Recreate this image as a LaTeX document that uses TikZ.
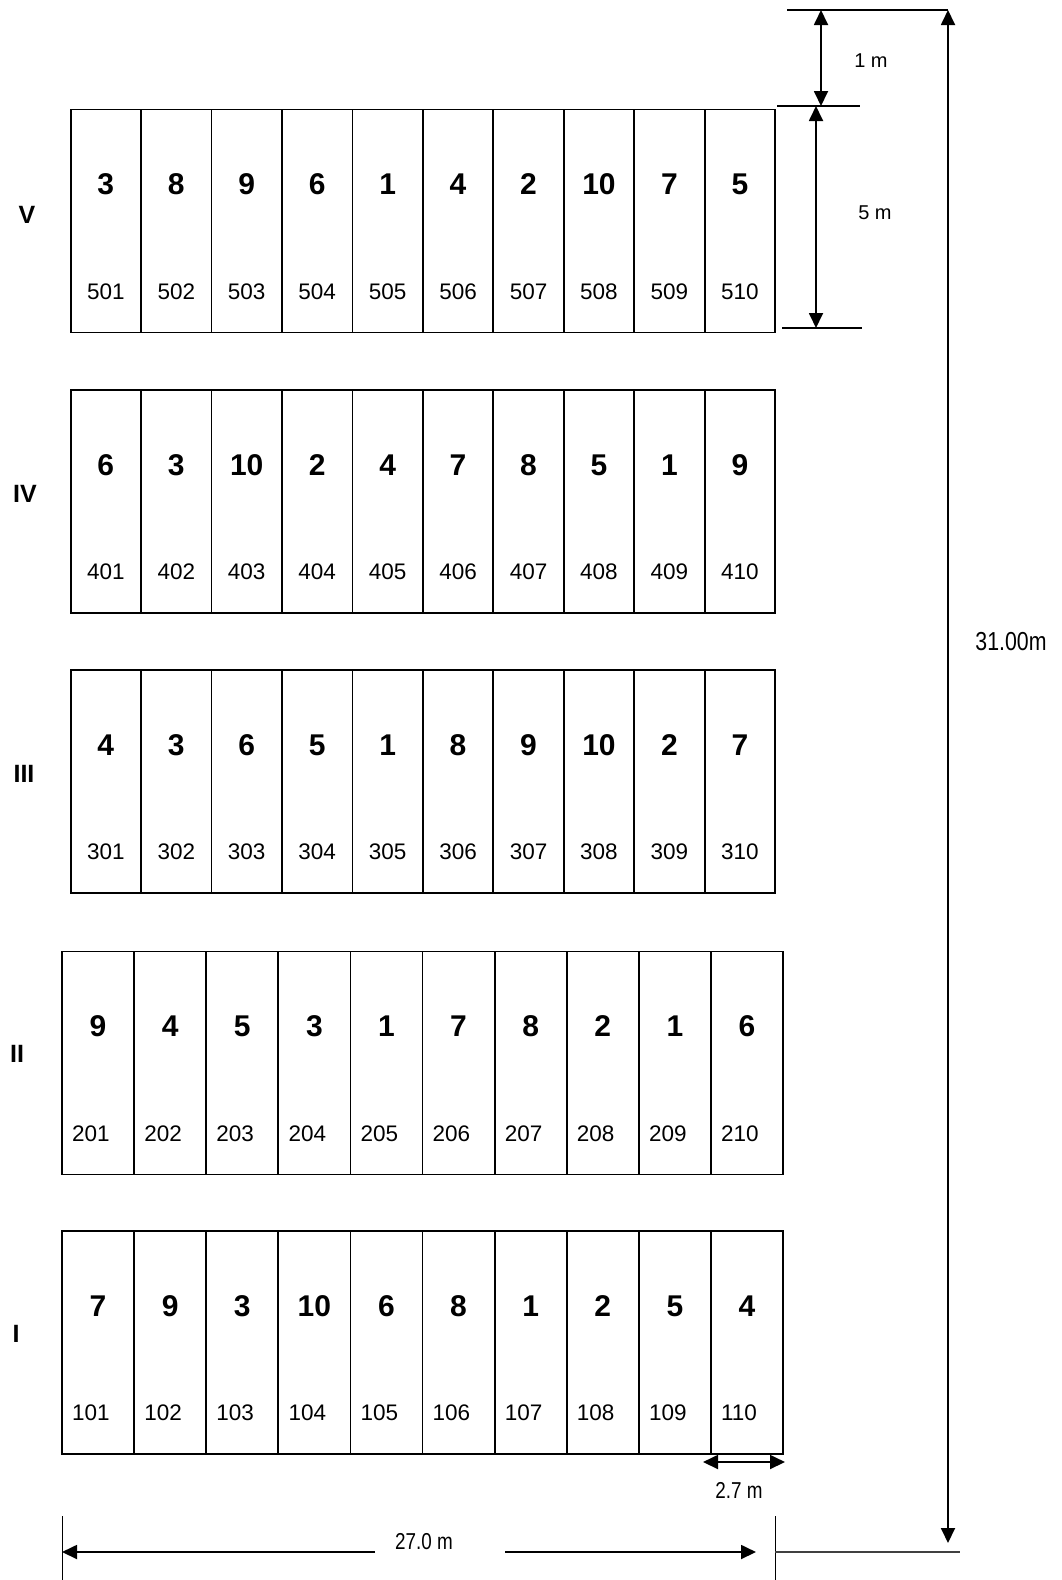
\documentclass[tikz,border=0pt]{standalone}
\usepackage{fontspec}
\setmainfont{Liberation Sans}
\usetikzlibrary{arrows.meta}
\tikzset{
  cell/.style={draw,line width=1.8pt,inner sep=0pt,minimum height=223pt},
  bignum/.style={font=\fontsize{30}{30}\selectfont\bfseries,inner sep=0pt},
  plotnum/.style={font=\fontsize{22.5}{22.5}\selectfont,inner sep=0pt},
  romanlab/.style={font=\fontsize{25}{25}\selectfont\bfseries,inner sep=0pt},
  dimlab/.style={font=\fontsize{20}{20}\selectfont,inner sep=0pt},
  narrowlab/.style={font=\fontsize{23}{23}\selectfont,inner sep=0pt,xscale=0.82},
  dimboth/.style={line width=1.8pt,{Triangle[length=15pt,width=14pt]}-{Triangle[length=15pt,width=14pt]}},
  dimone/.style={line width=1.8pt,-{Triangle[length=15pt,width=14pt]}},
  extline/.style={line width=1.3pt},
}
% #1 row hundreds, #2 ytop, #3 x0, #4 cell width, #5 list, #6 x offset of plot number from cell left (or -1 = centred)
\newcommand\rowplot[6]{%
  \foreach \t [count=\i] in {#5} {
    \pgfmathsetmacro\cx{#3+#4*(\i-0.5)}
    \pgfmathsetmacro\lx{#3+#4*(\i-1)}
    \node[cell,minimum width=#4pt] (c#1-\i) at (\cx,{#2+111.5}) {};
    \node[bignum] (b#1-\i) at (\cx,{#2+75}) {\t};
    \ifnum#6<0
      \node[plotnum] (p#1-\i) at (\cx,{#2+182}) {\the\numexpr #1*100+\i\relax};
    \else
      \node[plotnum,anchor=west] (p#1-\i) at ({\lx+#6},{#2+182}) {\the\numexpr #1*100+\i\relax};
    \fi
  }%
}
\begin{document}
\begin{tikzpicture}[x=1pt,y=-1pt]
\useasboundingbox (0,0) rectangle (1061,1580);

\rowplot{5}{109.5}{70.6}{70.45}{3,8,9,6,1,4,2,10,7,5}{-1}
\rowplot{4}{390}{70.6}{70.45}{6,3,10,2,4,7,8,5,1,9}{-1}
\rowplot{3}{670}{70.6}{70.45}{4,3,6,5,1,8,9,10,2,7}{-1}
\rowplot{2}{951.5}{62}{72.1}{9,4,5,3,1,7,8,2,1,6}{10}
\rowplot{1}{1231}{62}{72.1}{7,9,3,10,6,8,1,2,5,4}{10}

\node[romanlab] (rV) at (27,215) {V};
\node[romanlab] (rIV) at (25,494) {IV};
\node[romanlab] (rIII) at (24,774) {III};
\node[romanlab] (rII) at (17,1054) {II};
\node[romanlab] (rI) at (16,1334) {I};

% top dimension lines
\coordinate (t1) at (787,10);
\coordinate (t2) at (948,10);
\coordinate (m1) at (777,106);
\coordinate (m2) at (860,106);
\coordinate (n1) at (782,328);
\coordinate (n2) at (862,328);
\draw[extline] (t1) -- (t2);
\draw[extline] (m1) -- (m2);
\draw[extline] (n1) -- (n2);
\coordinate (a1t) at (821,10);
\coordinate (a1b) at (821,106);
\coordinate (a2t) at (816,106);
\coordinate (a2b) at (816,328);
\draw[dimboth] (a1t) -- (a1b);
\draw[dimboth] (a2t) -- (a2b);
\node[dimlab] (l1m) at (871,61) {1 m};
\node[dimlab] (l5m) at (875,213) {5 m};

% overall length
\coordinate (bt) at (948,10);
\coordinate (bb) at (948,1543);
\draw[dimboth] (bt) -- (bb);
\node[narrowlab,font=\fontsize{26}{26}\selectfont] (l31) at (1011,642) {31.00m};

% bottom
\coordinate (k1t) at (62,1516);
\coordinate (k1b) at (62,1580);
\coordinate (k2t) at (775,1516);
\coordinate (k2b) at (775,1580);
\draw[line width=1pt] (k1t) -- (k1b);
\draw[line width=1pt] (k2t) -- (k2b);
\coordinate (hl1) at (775,1552);
\coordinate (hl2) at (960,1552);
\draw[line width=1.3pt,black!75] (hl1) -- (hl2);
\node[narrowlab] (l27) at (424,1542) {27.0 m};
\coordinate (w1) at (62,1552);
\coordinate (w2) at (756,1552);
\coordinate (w1s) at (375,1552);
\coordinate (w2s) at (505,1552);
\draw[dimone] (w1s) -- (w1);
\draw[dimone] (w2s) -- (w2);

\coordinate (s1) at (703,1462);
\coordinate (s2) at (785,1462);
\draw[dimboth] (s1) -- (s2);
\node[narrowlab] (l27b) at (739,1490) {2.7 m};
\end{tikzpicture}
\end{document}
